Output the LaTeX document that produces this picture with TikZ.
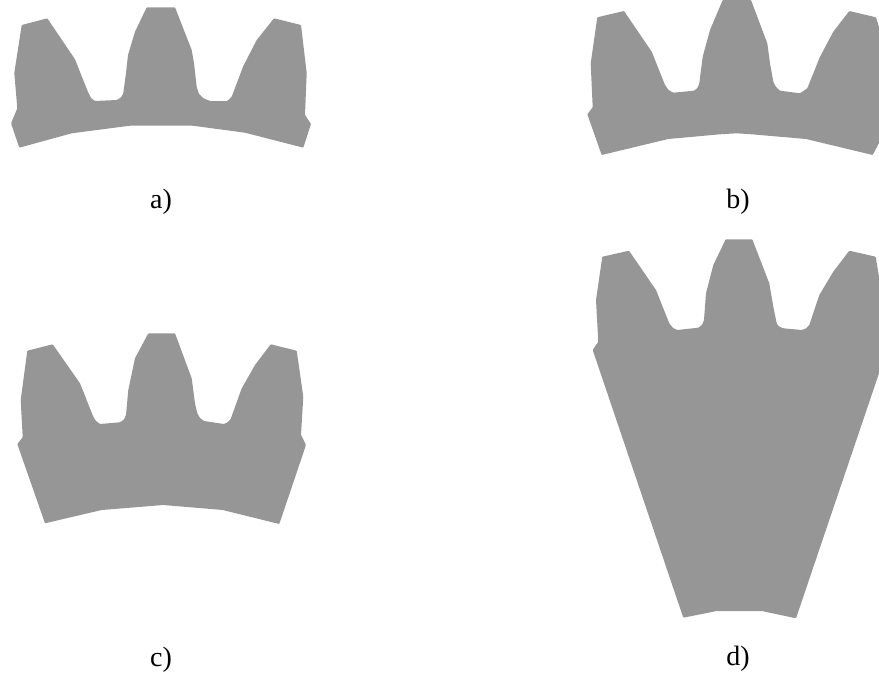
\documentclass[tikz,border=0pt]{standalone}
\usepackage{fontspec}
\setmainfont{Liberation Serif}
\definecolor{gearfill}{RGB}{150,150,150}
\tikzset{
  gear/.style={fill=gearfill, rounded corners=0.8pt},
  caption/.style={inner sep=0pt, font=\fontsize{28}{32}\selectfont}
}
\begin{document}
\begin{tikzpicture}[x=1pt, y=-1pt]
      \useasboundingbox (0,0) rectangle (879,680);

      % Gear a
      \fill[gear] (21.7,25) -- (47.3,18.3) -- (75,59.3) -- (88,92) -- (91,98) -- (95,101) -- (116.7,100) -- (121,97.5) -- (123.3,93.3) -- (126,73) -- (128,55) -- (135,31.7) -- (146.7,7.3) -- (175,7.3) -- (191.7,50) -- (194,63) -- (196.7,87) -- (199,94) -- (203,98) -- (210,101) -- (227.3,101) -- (231.7,96.7) -- (243.3,66) -- (256.7,40) -- (274,18.3) -- (301,25) -- (306.7,73) -- (305,115) -- (311,124) -- (303.3,147.7) -- (245,132.7) -- (192.7,125.7) -- (130,125.7) -- (71.7,133.3) -- (19.3,147.7) -- (11,123.3) -- (17.3,108.3) -- (14.3,73) -- cycle;

      % Gear b
      \fill[gear] (597.3,17.3) -- (624,11) -- (651.7,51.7) -- (665,85) -- (668.5,90) -- (673.3,92.7) -- (694,90.7) -- (697.5,88) -- (699.3,83.3) -- (702.7,56.7) -- (710,30) -- (722.7,0) -- (751,0) -- (767.3,43.3) -- (770,63.3) -- (773.3,81.7) -- (776,87) -- (780,90.7) -- (800,93.3) -- (807.3,88.3) -- (820,56.7) -- (833.3,31.7) -- (849.3,11) -- (876,17.3) -- (879,27) -- (879,143) -- (872.7,155) -- (806,139) -- (751.7,134.3) -- (736.7,133.3) -- (720,134.3) -- (668.3,139) -- (601.7,155) -- (587.3,114.3) -- (592.7,107.3) -- (590.7,63.3) -- cycle;

      % Gear c
      \fill[gear] (27.3,350.7) -- (52.7,344.3) -- (80,383.3) -- (93.3,416.7) -- (96,421) -- (100,424) -- (120,422.3) -- (124,419.5) -- (126,415) -- (128.3,390) -- (135,358.3) -- (148.3,333.3) -- (175,333.3) -- (191.7,378.3) -- (195,403.3) -- (197.3,413.3) -- (200,418) -- (204,421) -- (224,424) -- (228,422) -- (230.7,419) -- (241.7,388.3) -- (255,365) -- (270.7,344.3) -- (296.7,350.7) -- (303.3,396.7) -- (301,435) -- (306,445) -- (279.3,524) -- (222.7,510) -- (163.3,505) -- (101.7,510) -- (45,523.3) -- (17.3,444) -- (22.7,437.3) -- (20.7,400) -- cycle;

      % Gear d
      \fill[gear] (602.3,256.7) -- (629,250.7) -- (656,290) -- (669.3,323.3) -- (673,328) -- (677.3,330) -- (698.3,327.7) -- (702,325) -- (704,320) -- (706,293.3) -- (713.3,265) -- (725.7,239.3) -- (752.3,239.3) -- (769.3,283.3) -- (773.3,306.7) -- (776.7,323.3) -- (779,326.5) -- (783.3,328.3) -- (801.7,330) -- (806,328.5) -- (809.3,325) -- (819.3,295) -- (833.3,271.7) -- (849.3,250.7) -- (875.7,256.7) -- (879,276.7) -- (879,373.3) -- (796,618.3) -- (761.7,611) -- (716.7,611) -- (683.3,617.7) -- (592.7,350) -- (598.3,341.7) -- (596,300) -- cycle;

      % Nodes
      \node[caption] at (161,201.5) (capa) {a)};
      \node[caption] at (738,201.5) (capb) {b)};
      \node[caption] at (161,659.5) (capc) {c)};
      \node[caption] at (738,658.5) (capd) {d)};
    \end{tikzpicture}
\end{document}
